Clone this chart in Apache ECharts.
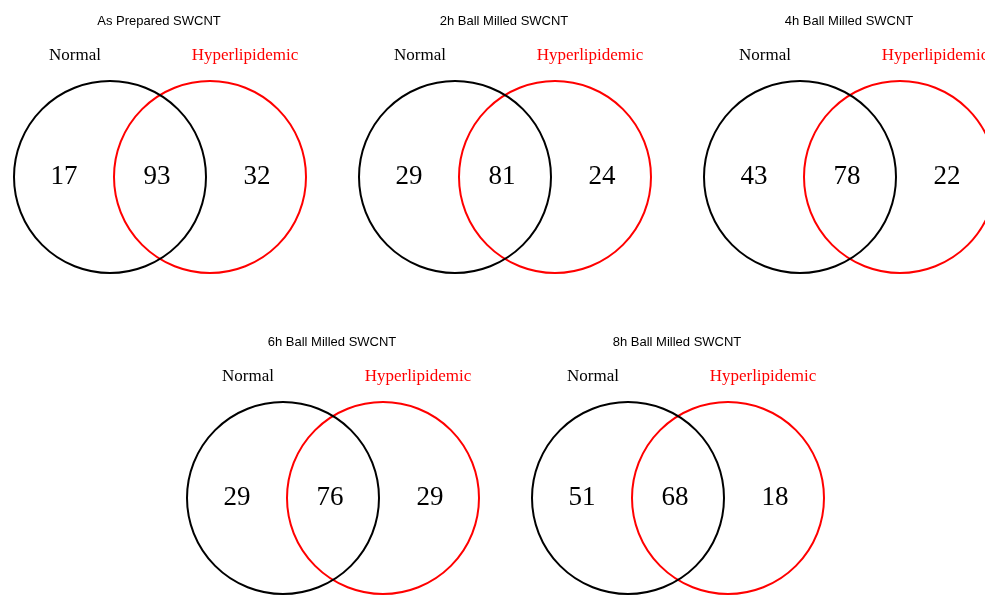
<!DOCTYPE html>
<html>
<head>
<meta charset="utf-8">
<script src="https://cdn.jsdelivr.net/npm/echarts@6/dist/echarts.min.js"></script>
<style>
  html, body { margin: 0; padding: 0; background: #fff; }
  #chart { width: 985px; height: 596px; }
</style>
</head>
<body>
<div id="chart"></div>
<script>
// Panel titles, set names and region counts for each Venn diagram
const panelTitles = ['As Prepared SWCNT', '2h Ball Milled SWCNT', '4h Ball Milled SWCNT', '6h Ball Milled SWCNT', '8h Ball Milled SWCNT'];
const setNames = ['Normal', 'Hyperlipidemic'];
const normalOnly = [17, 29, 43, 29, 51];
const shared = [93, 81, 78, 76, 68];
const hyperOnly = [32, 24, 22, 29, 18];

// Layout (page units on a hidden 985 x 596 grid): midpoint of each diagram
const panelCenters = [[160, 177], [505, 177], [850, 177], [333, 498], [678, 498]];
const circleRadius = 96;
const circleOffset = 50;
const setColors = ['#000000', '#ff0000'];

const chart = echarts.init(document.getElementById('chart'), null, { renderer: 'canvas' });

const seriesData = panelCenters.map((c, i) => [c[0], c[1], normalOnly[i], shared[i], hyperOnly[i], i]);

const serifFont = 'Liberation Serif, Times New Roman, serif';
const sansFont = 'Liberation Sans, Arial, sans-serif';

chart.setOption({
  animation: false,
  backgroundColor: '#ffffff',
  grid: { left: 0, right: 0, top: 0, bottom: 0 },
  xAxis: { type: 'value', min: 0, max: 985, show: false },
  yAxis: { type: 'value', min: 0, max: 596, inverse: true, show: false },
  series: [{
    type: 'custom',
    coordinateSystem: 'cartesian2d',
    clip: false,
    data: seriesData,
    renderItem: function (params, api) {
      const mx = api.value(0), my = api.value(1);
      const idx = api.value(5);
      const leftC = api.coord([mx - circleOffset, my]);
      const rightC = api.coord([mx + circleOffset, my]);
      const mid = api.coord([mx, my]);
      const r = api.size([circleRadius, 0])[0];
      const unitX = api.size([1, 0])[0];
      const titleY = api.coord([mx, my - 156])[1];
      const labelY = api.coord([mx, my - 121])[1];
      const counts = [api.value(2), api.value(3), api.value(4)];
      const countX = [mid[0] - 96 * unitX, mid[0] - 3 * unitX, mid[0] + 97 * unitX];
      const children = [
        { type: 'circle', shape: { cx: rightC[0], cy: rightC[1], r: r },
          style: { fill: 'none', stroke: setColors[1], lineWidth: 2 } },
        { type: 'circle', shape: { cx: leftC[0], cy: leftC[1], r: r },
          style: { fill: 'none', stroke: setColors[0], lineWidth: 2 } },
        { type: 'text', x: mid[0] - 1, y: titleY,
          style: { text: panelTitles[idx], fill: '#000', font: '13px ' + sansFont, align: 'center', verticalAlign: 'middle' } },
        { type: 'text', x: mid[0] - 85 * unitX, y: labelY,
          style: { text: setNames[0], fill: setColors[0], font: '17px ' + serifFont, align: 'center', verticalAlign: 'middle' } },
        { type: 'text', x: mid[0] + 85 * unitX, y: labelY,
          style: { text: setNames[1], fill: setColors[1], font: '17px ' + serifFont, align: 'center', verticalAlign: 'middle' } }
      ];
      counts.forEach((v, k) => {
        children.push({ type: 'text', x: countX[k], y: mid[1],
          style: { text: String(v), fill: '#000', font: '27px ' + serifFont, align: 'center', verticalAlign: 'middle' } });
      });
      return { type: 'group', children: children };
    }
  }]
});
</script>
</body>
</html>
